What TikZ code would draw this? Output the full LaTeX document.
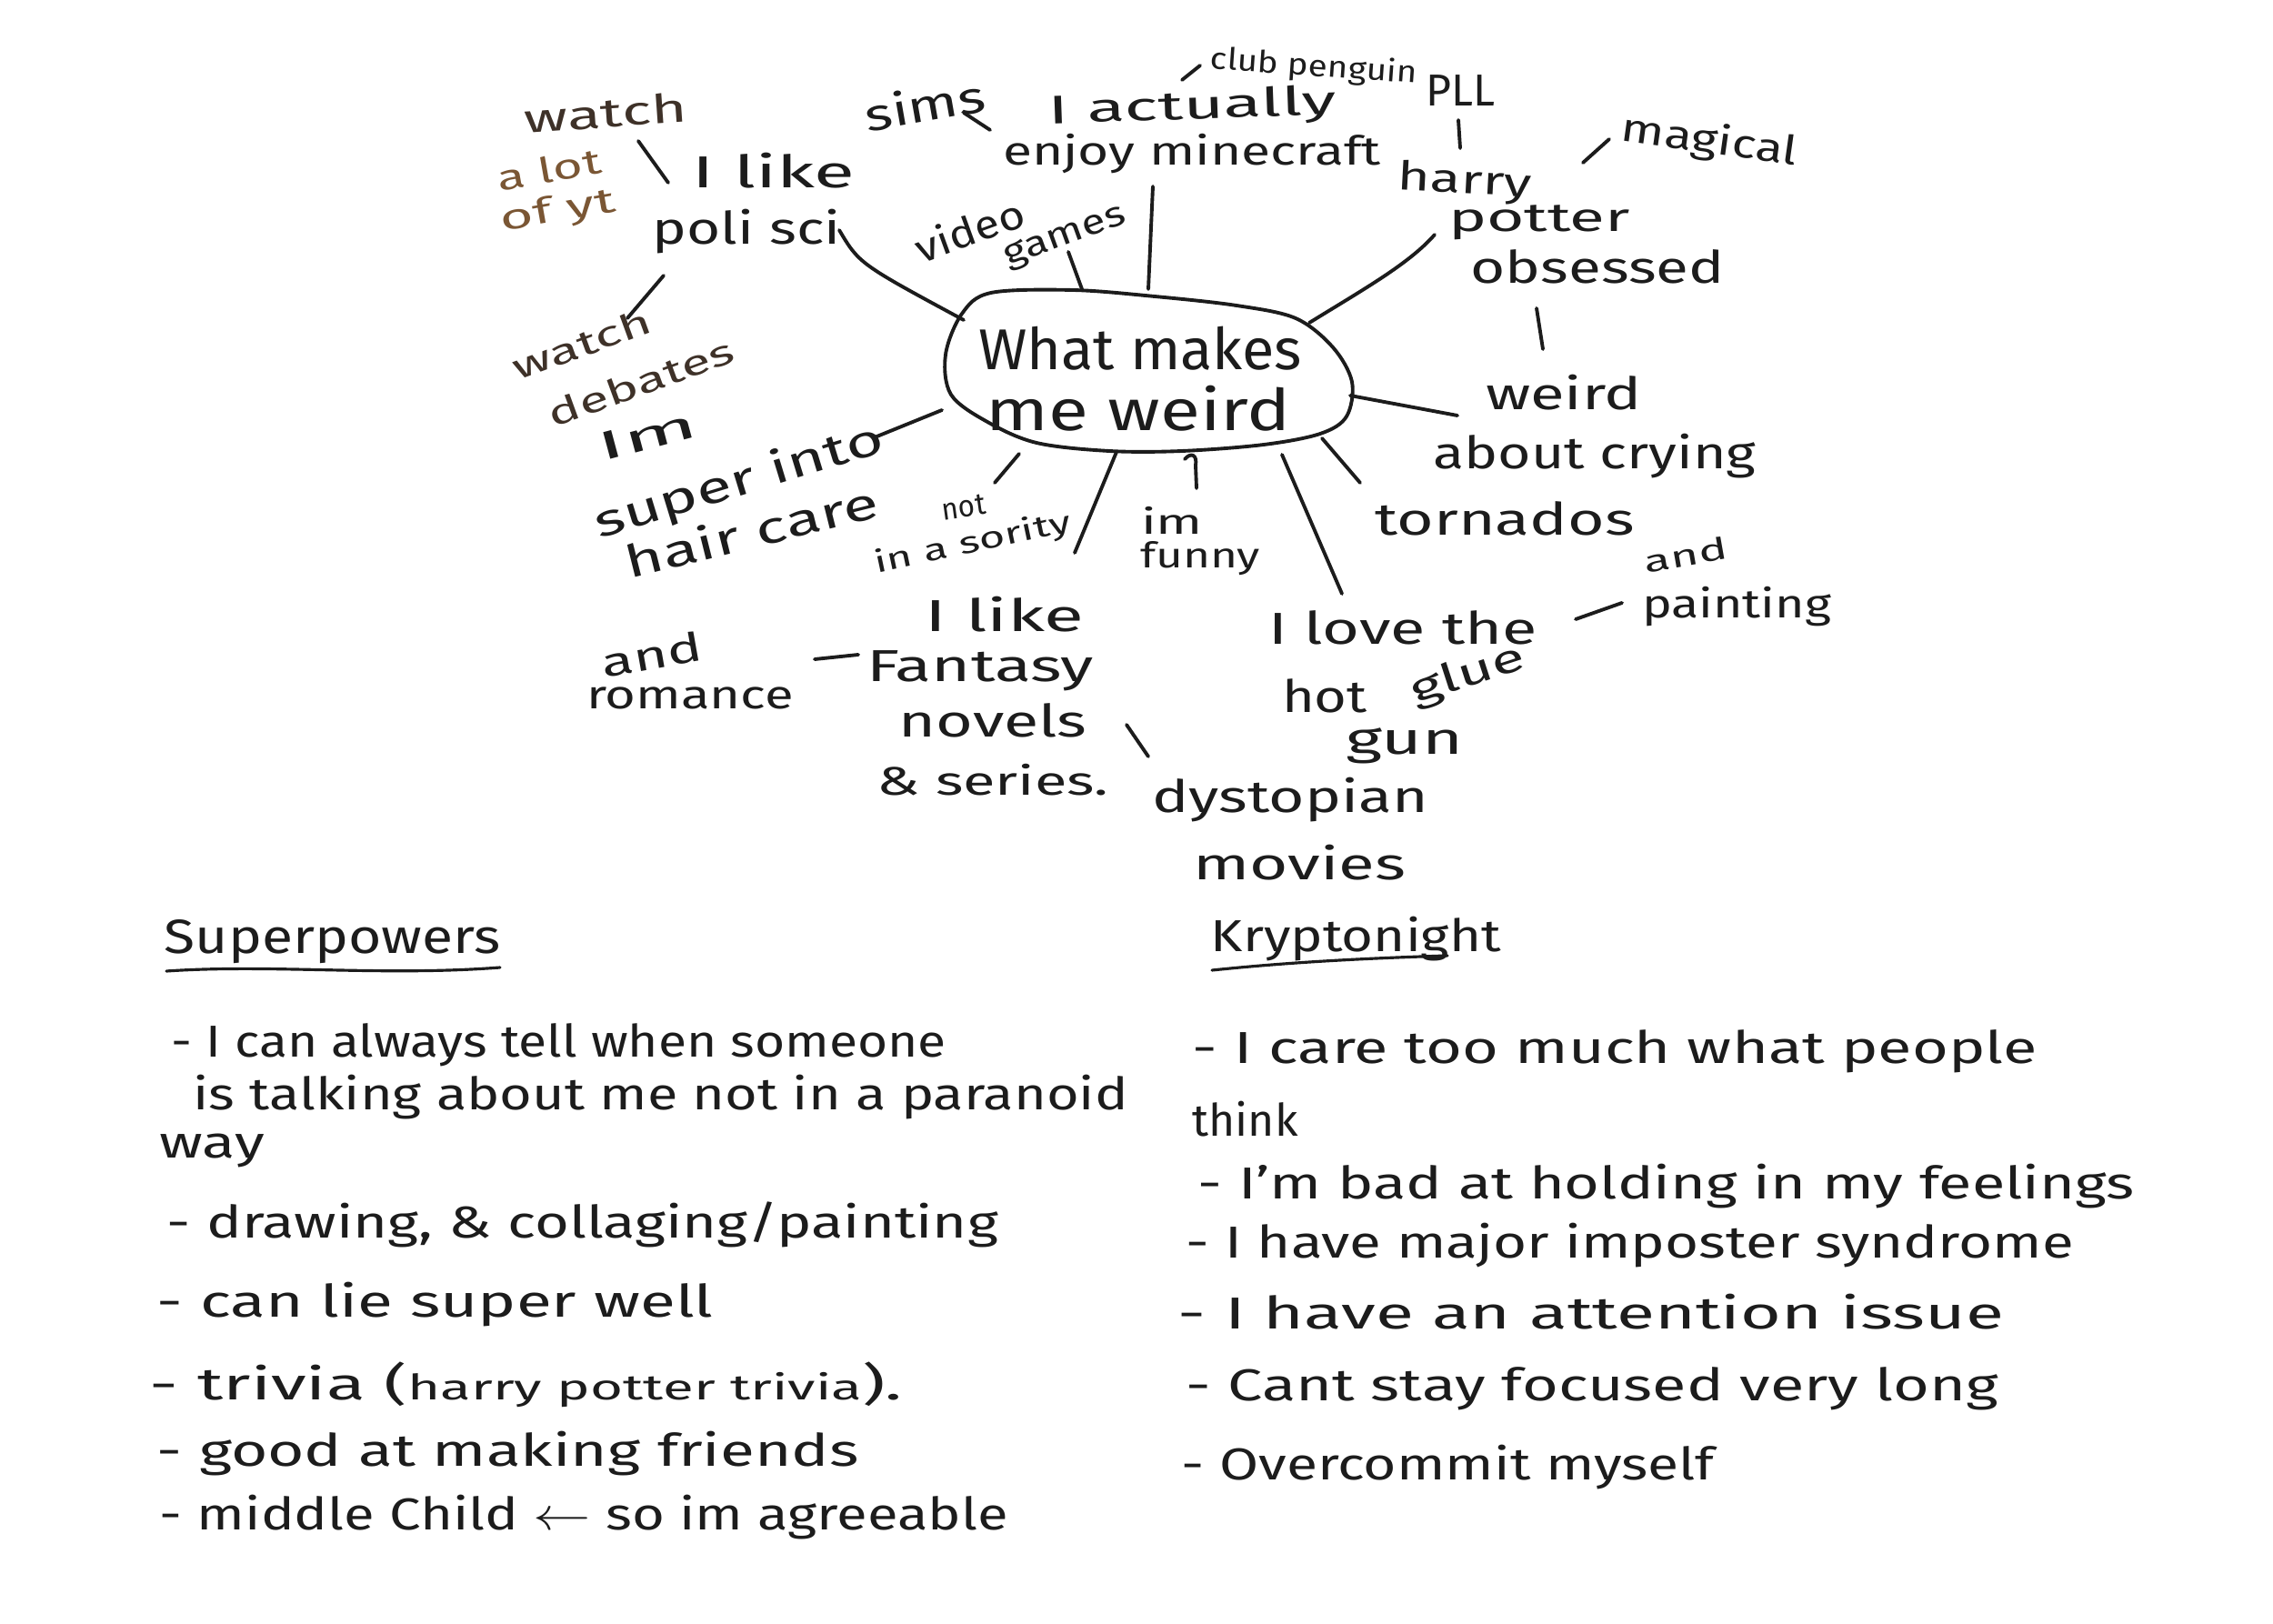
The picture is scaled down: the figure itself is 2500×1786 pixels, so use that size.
\documentclass[tikz,border=0pt]{standalone}
\usepackage{fontspec}
\setmainfont{Fira Sans}
\usepackage{graphicx}
\newdimen\pxu \pxu=0.01cm
\newcommand\tw[2]{\resizebox{#1\pxu}{\height}{#2}}
\definecolor{ink}{HTML}{1C1C1C}
\definecolor{brownink}{HTML}{3E3128}
\definecolor{brownlt}{HTML}{7A5634}
\tikzset{
  hw/.style={inner sep=0pt, text=ink, font=\fontsize{14pt}{17pt}\selectfont},
  hwbig/.style={inner sep=0pt, text=ink, font=\fontsize{18pt}{21pt}\selectfont},
  hwmid/.style={inner sep=0pt, text=ink, font=\fontsize{12.5pt}{15pt}\selectfont},
  hwsm/.style={inner sep=0pt, text=ink, font=\fontsize{9.5pt}{11pt}\selectfont},
  listf/.style={inner sep=0pt, text=ink, anchor=west, font=\fontsize{14pt}{17pt}\selectfont},
  stroke/.style={draw=ink, line width=1.1pt, line cap=round, line join=round},
}
\begin{document}
\begin{tikzpicture}[x=0.01cm,y=-0.01cm]
\useasboundingbox (0,0) rectangle (2500,1786);
\fill[white] (0,0) rectangle (2500,1786);

% ---------- central blob ----------
\draw[stroke] plot[smooth cycle, tension=0.55] coordinates {
 (1090,322) (1180,319) (1270,326) (1360,336) (1425,350) (1466,382) (1487,420)
 (1481,458) (1452,477) (1390,489) (1300,496) (1220,496) (1140,487) (1086,464)
 (1046,434) (1040,390) (1058,345)};
\node[hwbig] (cw1) at (1254,383) {\tw{356}{What makes}};
\node[hwbig] (cw2) at (1252,449) {\tw{335}{me weird}};

% ---------- top-left ----------
\node[hwmid, text=brownink, rotate=4] (watchA) at (666,124) {\tw{179}{watch}};
\node[hwsm, font=\fontsize{11pt}{13pt}\selectfont, text=brownlt, rotate=10] (alot) at (604,186) {\tw{115}{a lot}};
\node[hwsm, font=\fontsize{11pt}{13pt}\selectfont, text=brownlt, rotate=10] (ofyt) at (614,233) {\tw{128}{of yt}};
\node[hw] (ilikeA) at (851,188) {\tw{179}{I like}};
\node[hw] (polisci) at (821,255) {\tw{207}{poli sci}};
\node[hwsm, font=\fontsize{11pt}{13pt}\selectfont, text=brownink, rotate=20] (watchB) at (640,378) {\tw{160}{watch}};
\node[hwsm, font=\fontsize{11pt}{13pt}\selectfont, text=brownink, rotate=20] (debates) at (705,420) {\tw{215}{debates}};
\node[hwmid, rotate=15] (imB) at (712,479) {\tw{110}{Im}};
\node[hw, rotate=17] (superinto) at (813,531) {\tw{330}{super into}};
\node[hw, rotate=14] (haircare) at (826,584) {\tw{285}{hair care}};
\node[hwsm, rotate=8] (notn) at (1060,558) {\tw{48}{not}};
\node[hwsm, rotate=12] (sority) at (1070,598) {\tw{220}{in a sority}};

% ---------- top-middle ----------
\node[hw, rotate=10] (sims) at (1017,115) {\tw{134}{sims}};
\node[hwmid, rotate=2] (iact) at (1311,119) {\tw{317}{I actually}};
\node[hwmid] (enjoy) at (1311,169) {\tw{416}{enjoy minecraft}};
\node[hwsm, rotate=-4] (club) at (1445,74) {\tw{228}{club penguin}};
\node[hw] (pll) at (1606,100) {\tw{76}{PLL}};
\node[hwmid, rotate=20] (video) at (1066,253) {\tw{125}{video}};
\node[hwsm, font=\fontsize{11pt}{13pt}\selectfont, rotate=20] (games) at (1172,262) {\tw{140}{games}};

% ---------- right ----------
\node[hwmid, rotate=-3] (harry) at (1611,201) {\tw{148}{harry}};
\node[hwmid] (potter) at (1693,245) {\tw{200}{potter}};
\node[hw] (obsessed) at (1757,293) {\tw{279}{obsessed}};
\node[hwmid, rotate=-8] (magical) at (1880,156) {\tw{195}{magical}};
\node[hw] (weird) at (1720,432) {\tw{172}{weird}};
\node[hw] (crying) at (1754,502) {\tw{355}{about crying}};
\node[hw] (tornados) at (1655,570) {\tw{285}{tornados}};
\node[hwsm, rotate=10] (andA) at (1854,610) {\tw{92}{and}};
\node[hwmid] (painting) at (1910,667) {\tw{208}{painting}};
\node[hw] (ilove) at (1543,690) {\tw{296}{I love the}};
\node[hw] (hot) at (1457,765) {\tw{94}{hot}};
\node[hwmid, rotate=18] (glue) at (1615,743) {\tw{130}{glue}};
\node[hw] (gun) at (1545,820) {\tw{129}{gun}};
\node[hwsm, font=\fontsize{11pt}{13pt}\selectfont] (imA) at (1289,572) {\tw{68}{im}};
\node[hwsm, font=\fontsize{11pt}{13pt}\selectfont] (funny) at (1320,614) {\tw{132}{funny}};

% ---------- bottom of map ----------
\node[hw] (ilikeB) at (1105,676) {\tw{175}{I like}};
\node[hw] (fantasy) at (1078,738) {\tw{250}{Fantasy}};
\node[hw] (novels) at (1092,792) {\tw{207}{novels}};
\node[hwmid] (series) at (1092,858) {\tw{255}{\& series.}};
\node[hwmid, rotate=10] (andB) at (717,720) {\tw{112}{and}};
\node[hwmid] (romance) at (759,768) {\tw{228}{romance}};
\node[hw] (dystopian) at (1419,880) {\tw{303}{dystopian}};
\node[hw] (movies) at (1429,949) {\tw{234}{movies}};

% ---------- connector end points ----------
\coordinate (a1) at (702,155);  \coordinate (b1) at (735,201);
\coordinate (a2) at (923,253);  \coordinate (b2) at (1060,352);
\coordinate (a3) at (730,303);  \coordinate (b3) at (690,350);
\coordinate (a4) at (1036,451); \coordinate (b4) at (962,481);
\coordinate (a5) at (1121,499); \coordinate (b5) at (1094,531);
\coordinate (a6) at (1060,124); \coordinate (b6) at (1089,143);
\coordinate (a7) at (1300,88);  \coordinate (b7) at (1320,72);
\coordinate (a8) at (1604,132); \coordinate (b8) at (1606,163);
\coordinate (a9) at (1175,277); \coordinate (b9) at (1190,318);
\coordinate (a10) at (1268,205); \coordinate (b10) at (1263,318);
\coordinate (a11) at (1741,179); \coordinate (b11) at (1770,153);
\coordinate (a12) at (1440,355); \coordinate (b12) at (1578,258);
\coordinate (a13) at (1690,339); \coordinate (b13) at (1697,384);
\coordinate (a14) at (1485,435); \coordinate (b14) at (1603,457);
\coordinate (a15) at (1454,482); \coordinate (b15) at (1496,531);
\coordinate (a16) at (1733,681); \coordinate (b16) at (1784,663);
\coordinate (a17) at (1410,500); \coordinate (b17) at (1476,653);
\coordinate (a18) at (1303,505); \coordinate (b18) at (1316,537);
\coordinate (a19) at (1228,497); \coordinate (b19) at (1182,608);
\coordinate (a20) at (896,725);  \coordinate (b20) at (944,720);
\coordinate (a21) at (1239,797); \coordinate (b21) at (1263,832);

\draw[stroke] (a1) -- (b1);
\draw[stroke] (a2) .. controls (945,290) .. (b2);
\draw[stroke] (a3) -- (b3);
\draw[stroke] (a4) -- (b4);
\draw[stroke] (a5) -- (b5);
\draw[stroke] (a6) -- (b6);
\draw[stroke] (a7) -- (b7);
\draw[stroke] (a8) -- (b8);
\draw[stroke] (a9) -- (b9);
\draw[stroke] (a10) -- (b10);
\draw[stroke] (a11) -- (b11);
\draw[stroke] (a12) .. controls (1500,318) and (1550,290) .. (b12);
\draw[stroke] (a13) -- (b13);
\draw[stroke] (a14) -- (b14);
\draw[stroke] (a15) -- (b15);
\draw[stroke] (a16) -- (b16);
\draw[stroke] (a17) -- (b17);
\draw[stroke] (a18) .. controls (1310,497) and (1317,500) .. (1315,512) -- (b18);
\draw[stroke] (a19) -- (b19);
\draw[stroke] (a20) -- (b20);
\draw[stroke] (a21) -- (b21);

% ---------- Superpowers ----------
\node[listf, font=\fontsize{15pt}{18pt}\selectfont] (sp) at (180,1036) {\tw{370}{Superpowers}};
\coordinate (spu1) at (183,1068); \coordinate (spu2) at (550,1064);
\draw[stroke, line width=0.9pt] (spu1) .. controls (300,1060) and (420,1074) .. (spu2);
\node[listf] (s1) at (188,1149) {\tw{852}{- I can always tell when someone}};
\node[listf] (s2) at (212,1207) {\tw{1028}{is talking about me not in a paranoid}};
\node[listf] (s3) at (175,1265) {\tw{115}{way}};
\node[listf] (s4) at (183,1347) {\tw{914}{- drawing, \& collaging/painting}};
\node[listf] (s5) at (172,1435) {\tw{612}{- can lie super well}};
\node[listf] (s6) at (164,1523) {\tw{828}{- trivia ({\fontsize{11pt}{13pt}\selectfont harry potter trivia}).}};
\node[listf] (s7) at (172,1599) {\tw{772}{- good at making friends}};
\node[listf] (s8) at (175,1669) {\tw{933}{- middle Child $\leftarrow$ so im agreeable}};

% ---------- Kryptonight ----------
\node[listf] (kr) at (1331,1033) {\tw{319}{Kryptonight}};
\coordinate (kru1) at (1333,1067); \coordinate (kru2) at (1592,1051);
\draw[stroke, line width=0.9pt] (kru1) .. controls (1420,1058) and (1500,1054) .. (kru2);
\node[listf] (k1) at (1311,1156) {\tw{929}{- I care too much what people}};
\node[listf] (k2) at (1311,1231) {\tw{116}{think}};
\node[listf] (k3) at (1317,1305) {\tw{1030}{- I'm bad at holding in my feelings}};
\node[listf] (k4) at (1304,1370) {\tw{976}{- I have major imposter syndrome}};
\node[listf] (k5) at (1295,1443) {\tw{908}{- I have an attention issue}};
\node[listf] (k6) at (1304,1527) {\tw{893}{- Cant stay focused very long}};
\node[listf] (k7) at (1299,1614) {\tw{586}{- Overcommit myself}};
\end{tikzpicture}
\end{document}
